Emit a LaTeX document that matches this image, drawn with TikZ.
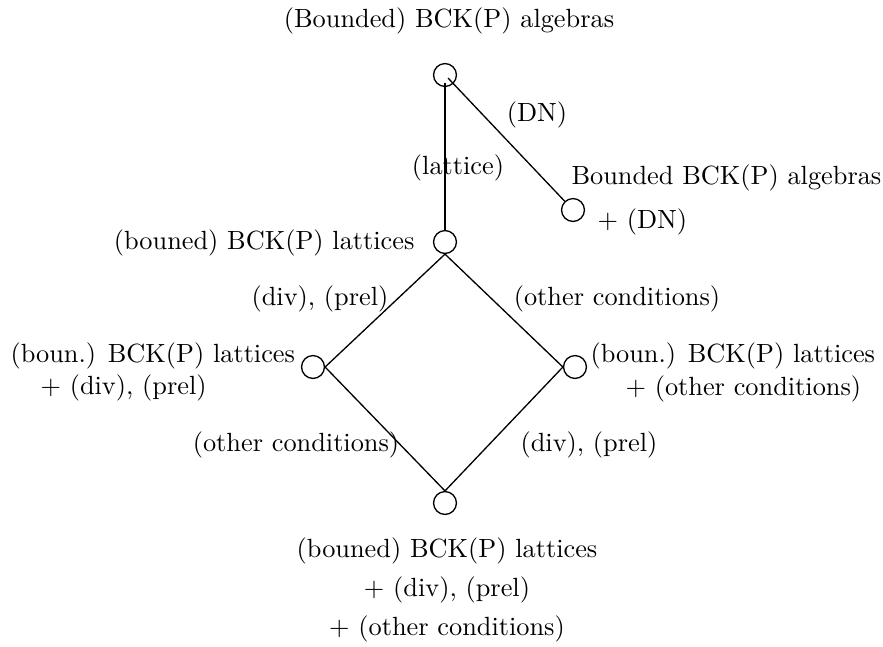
\documentclass[tikz,border=0pt]{standalone}
\begin{document}
\begin{tikzpicture}[x=0.38pt,y=-0.38pt,
  vtx/.style={circle,draw,inner sep=0pt,minimum size=8.7pt,line width=0.5pt},
  lbl/.style={inner sep=0pt},
  edge/.style={line width=0.5pt},
  thickedge/.style={line width=1pt}]
\useasboundingbox (0,0) rectangle (883,646);
% vertices
\node[vtx] (A) at (445,75) {};
\node[vtx] (B) at (573,210) {};
\node[vtx] (C) at (445,242) {};
\node[vtx] (L) at (313,367) {};
\node[vtx] (R) at (575,367) {};
\node[vtx] (D) at (445,503) {};
% connectors
\draw[thickedge] ([yshift=-3pt]A.center) -- (C.north);
\draw[edge] ([shift={(3,3)}]A.center) -- (B);
\draw[edge] (C.south) -- (L.east);
\draw[edge] (C.south) -- (R.west);
\draw[edge] (L.east) -- (D.north);
\draw[edge] (R.west) -- (D.north);
% labels
\node[lbl] (t) at (449,21) {(Bounded) BCK(P) algebras};
\node[lbl] (dn) at (537,115) {(DN)};
\node[lbl] (lat) at (458,168) {(lattice)};
\node[lbl,anchor=west] (bb1) at (571,178) {Bounded BCK(P) algebras};
\node[lbl,anchor=west] (bb2) at (597,222) {+ (DN)};
\node[lbl,anchor=east] (cl) at (415,243) {(bouned) BCK(P) lattices};
\node[lbl] (dp1) at (320,299) {(div), (prel)};
\node[lbl] (oc1) at (617,299) {(other conditions)};
\node[lbl,anchor=west] (l1) at (10,356) {(boun.) BCK(P) lattices};
\node[lbl,anchor=west] (l2) at (40,388) {+ (div), (prel)};
\node[lbl,anchor=west] (r1) at (590,356) {(boun.) BCK(P) lattices};
\node[lbl,anchor=west] (r2) at (625,389) {+ (other conditions)};
\node[lbl] (oc2) at (296,445) {(other conditions)};
\node[lbl] (dp2) at (589,445) {(div), (prel)};
\node[lbl,align=center] (bot) at (447,590) {(bouned) BCK(P) lattices\\[2.8pt]+ (div), (prel)\\[2.8pt]+ (other conditions)};
\end{tikzpicture}
\end{document}
